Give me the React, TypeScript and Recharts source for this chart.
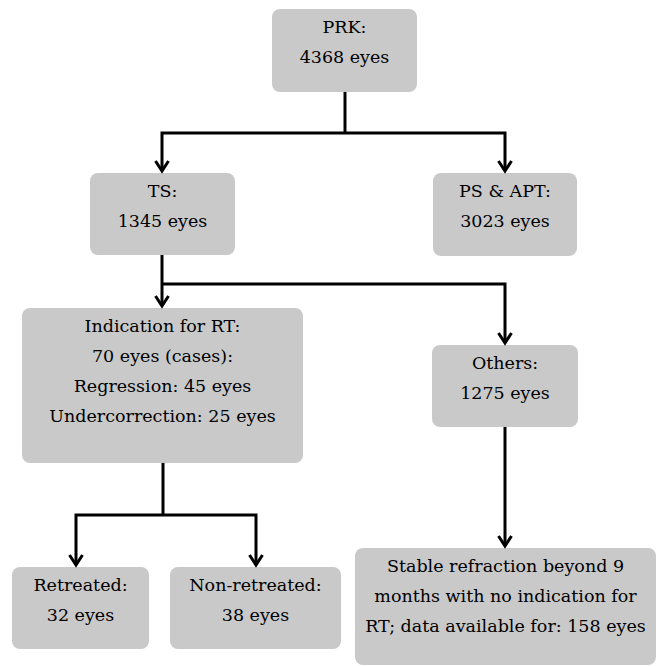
import React from 'react';
import {
  ComposedChart,
  XAxis,
  YAxis,
  ReferenceArea,
  Scatter,
} from 'recharts';

// Flowchart nodes: text lines and box extents (in chart units, 0..660 x 0..666)
const nodeLabels: string[][] = [
  ['PRK:', '4368 eyes'],
  ['PS & APT:', '3023 eyes'],
  ['TS:', '1345 eyes'],
  ['Indication for RT:', '70 eyes (cases):', 'Regression: 45 eyes', 'Undercorrection: 25 eyes'],
  ['Others:', '1275 eyes'],
  ['Retreated:', '32 eyes'],
  ['Non-retreated:', '38 eyes'],
  ['Stable refraction beyond 9', 'months with no indication for', 'RT; data available for: 158 eyes'],
];
const nodeLeft = [272, 433, 90, 22, 432, 12, 170, 355];
const nodeRight = [417, 577, 235, 303, 578, 149, 341, 656];
const nodeTop = [9, 173, 173, 308, 345, 567, 567, 548];
const nodeBottom = [92, 256, 255, 463, 427, 649, 649, 665];

// Connector polylines; tip marks an arrowhead
type Pt = { x: number; y: number; tip?: boolean };
const connectors: Pt[][] = [
  [{ x: 345, y: 92 }, { x: 345, y: 133 }],
  [{ x: 162, y: 171, tip: true }, { x: 162, y: 133 }, { x: 505, y: 133 }, { x: 505, y: 171, tip: true }],
  [{ x: 162, y: 255 }, { x: 162, y: 306, tip: true }],
  [{ x: 162, y: 284 }, { x: 505, y: 284 }, { x: 505, y: 343, tip: true }],
  [{ x: 163, y: 463 }, { x: 163, y: 515 }],
  [{ x: 76, y: 565, tip: true }, { x: 76, y: 515 }, { x: 256, y: 515 }, { x: 256, y: 565, tip: true }],
  [{ x: 505, y: 427 }, { x: 505, y: 546, tip: true }],
];

const BOX_FILL = '#c9c9c9';
const FONT = "'DejaVu Serif', serif";

function NodeBox(props: any, lines: string[]) {
  const { x, y, width, height } = props;
  const cx = x + width / 2;
  return (
    <g>
      <rect x={x} y={y} width={width} height={height} rx={8} ry={8} fill={BOX_FILL} />
      <text
        x={cx}
        y={y + 24}
        textAnchor="middle"
        style={{ fontFamily: FONT, fontSize: 17.5, fill: '#000' }}
      >
        {lines.map((l, i) => (
          <tspan key={i} x={cx} dy={i === 0 ? 0 : 30}>
            {l}
          </tspan>
        ))}
      </text>
    </g>
  );
}

function ArrowTip(props: any) {
  const { cx, cy, payload } = props;
  if (!payload || !payload.tip) return <g />;
  return (
    <path
      d={`M ${cx - 6.5} ${cy - 10} L ${cx} ${cy} L ${cx + 6.5} ${cy - 10}`}
      stroke="#000"
      strokeWidth={3}
      fill="none"
    />
  );
}

export default function App() {
  return (
    <div style={{ position: 'absolute', left: 0, top: 0, background: '#fff' }}>
      <ComposedChart
        width={660}
        height={666}
        margin={{ top: 0, right: 0, bottom: 0, left: 0 }}
      >
        <XAxis type="number" dataKey="x" domain={[0, 660]} hide />
        <YAxis type="number" dataKey="y" domain={[0, 666]} reversed hide />
        {nodeLabels.map((lines, i) => (
          <ReferenceArea
            key={`n${i}`}
            x1={nodeLeft[i]}
            x2={nodeRight[i]}
            y1={nodeTop[i]}
            y2={nodeBottom[i]}
            shape={(p: any) => NodeBox(p, lines)}
          />
        ))}
        {connectors.map((pts, i) => (
          <Scatter
            key={`c${i}`}
            data={pts}
            line={{ stroke: '#000', strokeWidth: 3 }}
            lineType="joint"
            shape={ArrowTip}
            isAnimationActive={false}
          />
        ))}
      </ComposedChart>
    </div>
  );
}
